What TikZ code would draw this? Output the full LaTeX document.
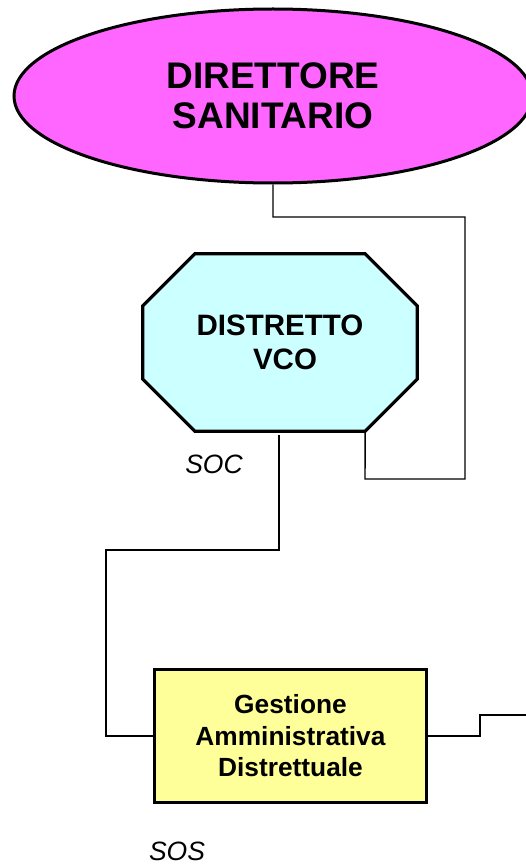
\documentclass[tikz,border=0pt]{standalone}
\usepackage{fontspec}
\setmainfont{Liberation Sans}
\usetikzlibrary{shapes.geometric,calc,backgrounds}
\definecolor{magentaA}{HTML}{FF66FF}
\definecolor{cyanA}{HTML}{CCFFFF}
\definecolor{yellowA}{HTML}{FFFF99}
\begin{document}
\begin{tikzpicture}[x=1pt,y=-1pt,
  conn/.style={line width=1.4pt, draw=black},
  octo/.style={line width=3.3pt, draw=black, fill=cyanA, line join=miter},
  lbl/.style={font=\itshape\fontsize{26.5}{30}\selectfont, inner sep=0}]
\useasboundingbox (0,0) rectangle (526,864);
% Direttore sanitario
\node[ellipse, draw, line width=3pt, fill=magentaA, minimum width=518pt, minimum height=174pt,
  inner sep=0, align=center, font=\bfseries\fontsize{37}{40}\selectfont] (dir) at (273,96) {DIRETTORE\\SANITARIO};
% Distretto VCO
\node[minimum width=274pt, minimum height=177pt, inner sep=0, align=center,
  font=\bfseries\fontsize{29.5}{34}\selectfont] (dist) at (280,342.5) {DISTRETTO\\\hspace*{10pt}VCO};
\begin{scope}[on background layer]
\draw[octo] ($(dist.north west)+(52,0)$) -- ($(dist.north east)+(-52,0)$) -- ($(dist.north east)+(0,52)$)
  -- ($(dist.south east)+(0,-52)$) -- ($(dist.south east)+(-52,0)$) -- ($(dist.south west)+(52,0)$)
  -- ($(dist.south west)+(0,-52)$) -- ($(dist.north west)+(0,52)$) -- cycle;
\end{scope}
\coordinate (dse) at ($(dist.south east)+(-52,0)$);
\node[lbl] (soc) at (214,464) {SOC};
% Gestione
\node[draw, line width=3.5pt, fill=yellowA, minimum width=272pt, minimum height=133pt, inner sep=0,
  align=center, font=\bfseries\fontsize{26.3}{31.5}\selectfont] (gest) at (290.5,736) {Gestione\\Amministrativa\\Distrettuale};
\node[lbl] (sos) at (177,851) {SOS};
\coordinate (out) at (530,715);
% connectors
\draw[conn] (dir.south) |- (465,217) |- (365,479) -- (dse);
\draw[conn] ([xshift=-1pt,yshift=-4pt]dist.south) -- (279,550) -| (106,736) -- (gest.west);
\draw[conn] (gest.east) -| (480,715) -- (out);
\end{tikzpicture}
\end{document}
